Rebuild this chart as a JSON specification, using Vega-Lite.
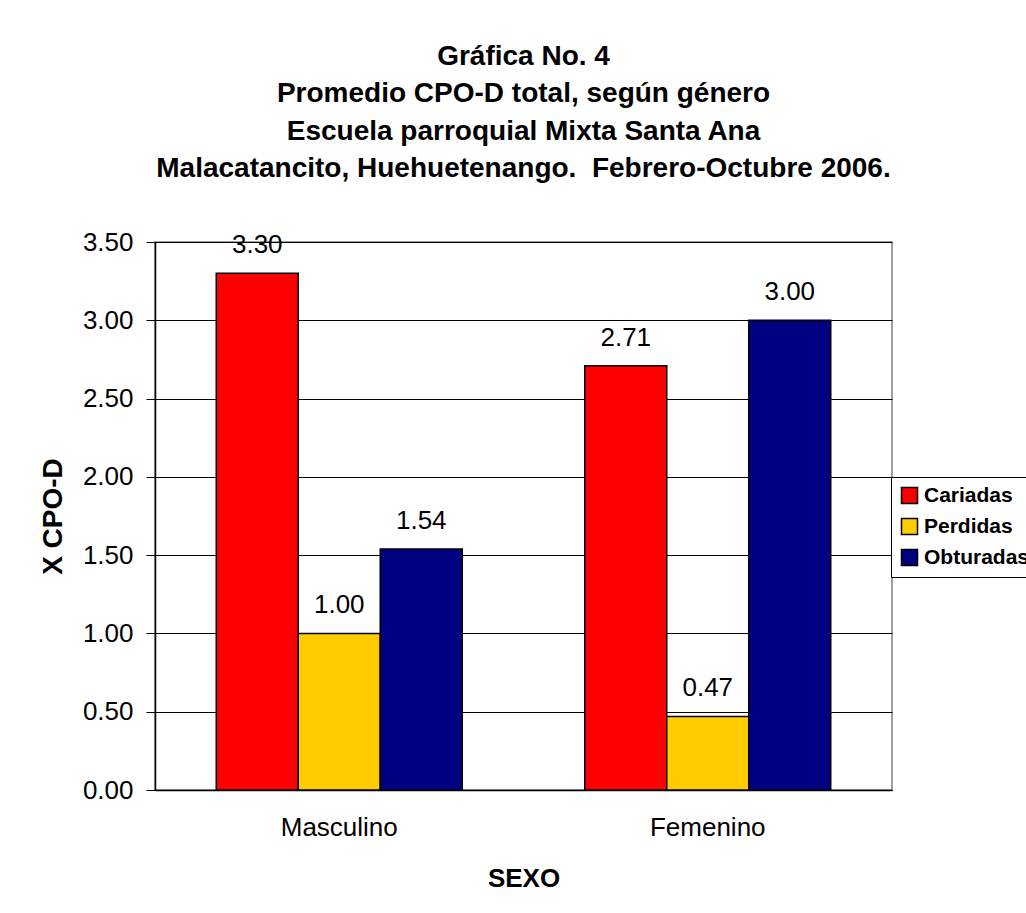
{
  "$schema": "https://vega.github.io/schema/vega-lite/v6.json",
  "width": 737,
  "height": 548,
  "autosize": "none",
  "padding": {"left": 155, "top": 242, "right": 134, "bottom": 123},
  "background": "white",
  "title": {
    "text": ["Gráfica No. 4", "Promedio CPO-D total, según género", "Escuela parroquial Mixta Santa Ana", "Malacatancito, Huehuetenango.\u00a0 Febrero-Octubre 2006."],
    "font": "Liberation Sans",
    "fontSize": 28,
    "fontWeight": "bold",
    "lineHeight": 37.5,
    "anchor": "middle",
    "offset": 46,
    "color": "black"
  },
  "config": {
    "view": {"stroke": "#808080", "strokeWidth": 1.5},
    "font": "Liberation Sans"
  },
  "data": {
    "values": [
      {"sexo": "Masculino", "tipo": "Cariadas", "valor": 3.30},
      {"sexo": "Masculino", "tipo": "Perdidas", "valor": 1.00},
      {"sexo": "Masculino", "tipo": "Obturadas", "valor": 1.54},
      {"sexo": "Femenino", "tipo": "Cariadas", "valor": 2.71},
      {"sexo": "Femenino", "tipo": "Perdidas", "valor": 0.47},
      {"sexo": "Femenino", "tipo": "Obturadas", "valor": 3.00}
    ]
  },
  "encoding": {
    "x": {
      "field": "sexo", "type": "nominal", "sort": ["Masculino", "Femenino"],
      "scale": {"paddingInner": 0, "paddingOuter": 0},
      "axis": {
        "title": "SEXO", "titleFontSize": 26, "titleFontWeight": "bold", "titleColor": "black", "titlePadding": 25,
        "labelFontSize": 26, "labelColor": "black", "labelAngle": 0, "labelPadding": 24,
        "ticks": false, "domainColor": "black", "domainWidth": 1.5, "grid": false
      }
    },
    "xOffset": {
      "field": "tipo", "type": "nominal", "sort": ["Cariadas", "Perdidas", "Obturadas"],
      "scale": {"paddingInner": 0, "paddingOuter": 0.747}
    },
    "y": {
      "field": "valor", "type": "quantitative",
      "scale": {"domain": [0, 3.5], "nice": false},
      "axis": {
        "title": "X CPO-D", "titleFontSize": 28, "titleFontWeight": "bold", "titleColor": "black", "titlePadding": 15,
        "values": [0, 0.5, 1, 1.5, 2, 2.5, 3, 3.5], "format": ".2f",
        "labelFontSize": 26, "labelColor": "black", "labelPadding": 13,
        "tickSize": 9, "tickColor": "black", "domainColor": "black", "domainWidth": 1.5,
        "grid": true, "gridColor": "black", "gridWidth": 1
      }
    }
  },
  "layer": [
    {
      "mark": {"type": "bar", "stroke": "black", "strokeWidth": 1.5},
      "encoding": {
        "color": {
          "field": "tipo", "type": "nominal", "sort": ["Cariadas", "Perdidas", "Obturadas"],
          "scale": {"domain": ["Cariadas", "Perdidas", "Obturadas"], "range": ["#FF0000", "#FFCC00", "#000080"]},
          "legend": {
            "title": null, "orient": "none", "legendX": 736, "legendY": 235,
            "strokeColor": "black", "fillColor": "white", "padding": 8,
            "symbolType": "square", "symbolSize": 256, "symbolStrokeColor": "black", "symbolStrokeWidth": 1.5,
            "labelFontSize": 21, "labelFontWeight": "bold", "labelColor": "black", "rowPadding": 8,
            "labelOffset": 4, "labelLimit": 300
          }
        }
      }
    },
    {
      "mark": {"type": "text", "fontSize": 26, "color": "black", "baseline": "alphabetic", "dy": -20},
      "encoding": {
        "text": {"field": "valor", "type": "quantitative", "format": ".2f"}
      }
    }
  ]
}
